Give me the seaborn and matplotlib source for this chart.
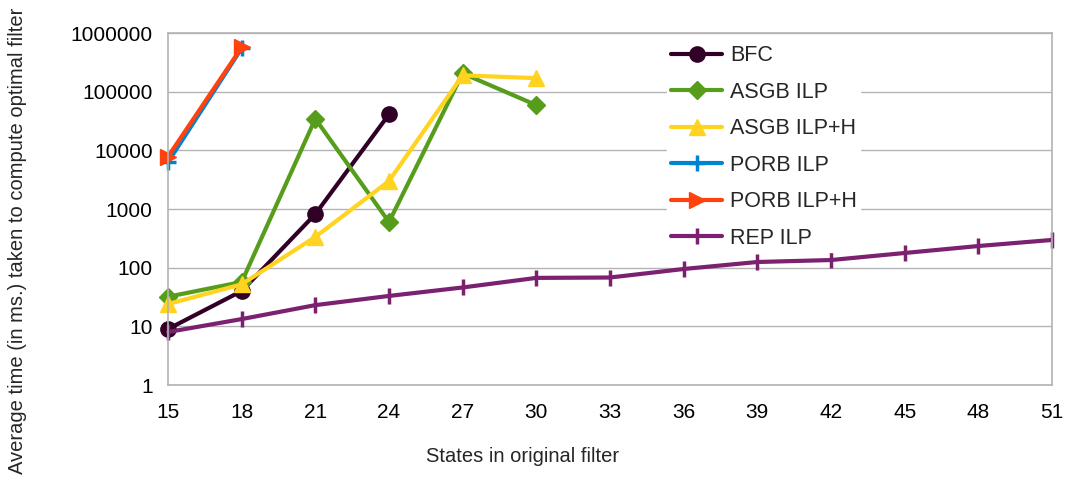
import numpy as np
import pandas as pd
import matplotlib
matplotlib.use("Agg")
import matplotlib.pyplot as plt
import seaborn as sns

# ==========================================
# DATA
# ==========================================
STATES = [15, 18, 21, 24, 27, 30, 33, 36, 39, 42, 45, 48, 51]

bfc_states = [15, 18, 21, 24]
bfc_time = [9, 40, 820, 41000]

asgb_states = [15, 18, 21, 24, 27, 30]
asgb_time = [32, 57, 34500, 600, 205000, 59000]

asgb_h_states = [15, 18, 21, 24, 27, 30]
asgb_h_time = [24, 52, 335, 3000, 190000, 170000]

porb_states = [15, 18]
porb_time = [6300, 550000]

porb_h_states = [15, 18]
porb_h_time = [7800, 570000]

rep_states = STATES
rep_time = [8, 13.3, 23, 33, 46, 67, 68, 95, 125, 135, 178, 234, 297]

SERIES = ["BFC", "ASGB ILP", "ASGB ILP+H", "PORB ILP", "PORB ILP+H", "REP ILP"]
COLORS = ["#300026", "#579d1c", "#ffd320", "#0084d1", "#ff420e", "#7b216f"]
MARKERS = ["o", "D", "^", "+", ">", "|"]
MSIZES = [11, 9.5, 12, 12, 12, 12]

Y_TICKS = [1, 10, 100, 1000, 10000, 100000, 1000000]

# ==========================================
# BUILD LONG TABLE
# ==========================================
parts = [
    ("BFC", bfc_states, bfc_time),
    ("ASGB ILP", asgb_states, asgb_time),
    ("ASGB ILP+H", asgb_h_states, asgb_h_time),
    ("PORB ILP", porb_states, porb_time),
    ("PORB ILP+H", porb_h_states, porb_h_time),
    ("REP ILP", rep_states, rep_time),
]
df = pd.concat(
    [pd.DataFrame({"states": s, "time": t, "series": name}) for name, s, t in parts],
    ignore_index=True,
)

# ==========================================
# PLOT
# ==========================================
sns.set_style("white")
plt.rcParams["font.family"] = ["Liberation Sans", "DejaVu Sans"]

fig = plt.figure(figsize=(10.68, 4.82), dpi=100)
ax = fig.add_axes([0.1573, 0.2012, 0.8277, 0.7303])

for name, color, marker, ms in zip(SERIES, COLORS, MARKERS, MSIZES):
    sub = df[df["series"] == name]
    sns.lineplot(
        data=sub, x="states", y="time", ax=ax, color=color,
        marker=marker, markersize=ms, markeredgecolor=color,
        markeredgewidth=2.5 if marker in "+|" else 1,
        linewidth=3, label=name, legend=False, clip_on=False,
    )

ax.set_yscale("log")
ax.set_ylim(1, 1000000)
ax.set_yticks(Y_TICKS)
ax.set_yticklabels([str(v) for v in Y_TICKS])
ax.minorticks_off()
ax.set_xlim(15, 51)
ax.set_xticks(STATES)
ax.set_xticklabels([str(s) for s in STATES])

ax.yaxis.grid(True, color="#b3b3b3", linewidth=1)
ax.xaxis.grid(False)
for sp in ax.spines.values():
    sp.set_color("#b3b3b3")
    sp.set_linewidth(1.2)

ax.tick_params(axis="both", which="major", direction="out", length=8,
               width=1.2, color="#b3b3b3", labelsize=15, labelcolor="black")
ax.tick_params(axis="y", pad=3)
ax.tick_params(axis="x", pad=5)

ax.set_xlabel("")
ax.set_ylabel("")
fig.text(523 / 1068, 1 - 457 / 482, "States in original filter",
         fontsize=14.5, ha="center", va="center")
fig.text(18 / 1068, 0.5, "Average time (in ms.) taken to compute optimal filter",
         fontsize=14.5, ha="center", va="center", rotation=90)

handles, labels = ax.get_legend_handles_labels()
leg = ax.legend(handles, labels, loc="upper left", bbox_to_anchor=(0.565, 0.975),
                frameon=True, fontsize=15.5, handlelength=2.4, borderpad=0.15,
                labelspacing=0.72, borderaxespad=0, handletextpad=0.35)
leg.get_frame().set_edgecolor("white")
leg.get_frame().set_facecolor("white")
leg.get_frame().set_alpha(1)
leg.get_frame().set_boxstyle("square", pad=0)

fig.savefig("out.png", dpi=100)
plt.close(fig)
